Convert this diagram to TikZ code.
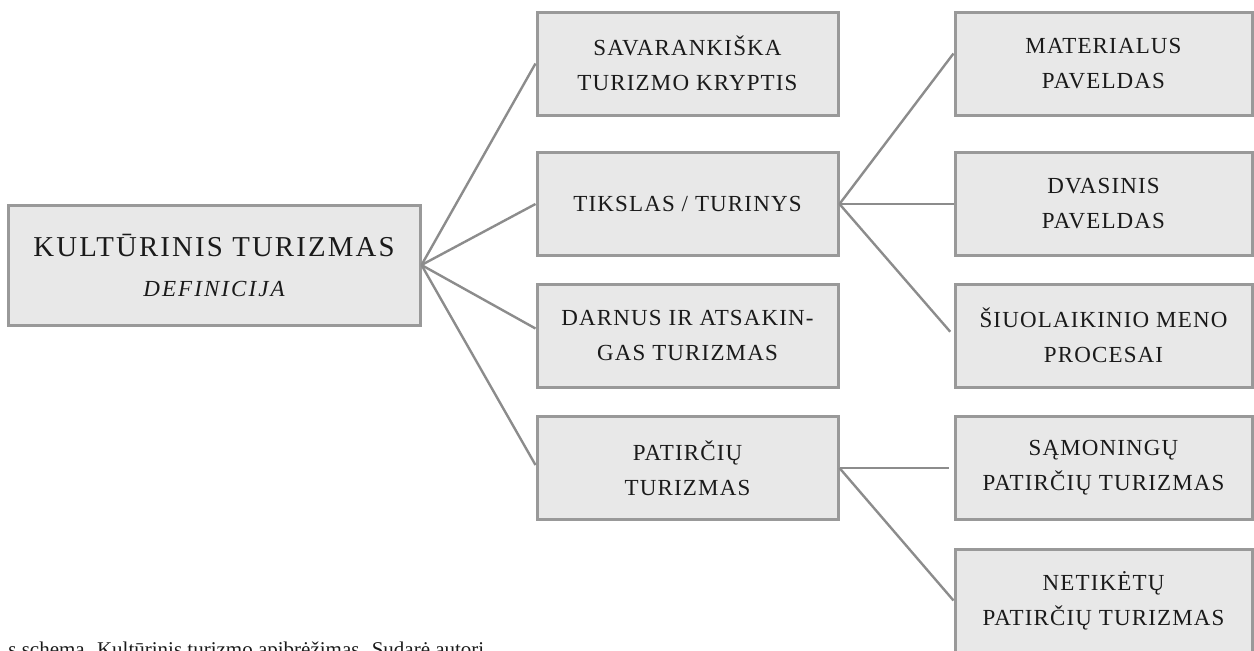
\documentclass[tikz,border=0pt]{standalone}
\usepackage{fontspec}
\setmainfont{Liberation Serif}
\newfontfamily\boxfont[LetterSpace=5]{Liberation Serif}
\newfontfamily\topfont[LetterSpace=7.5]{Liberation Serif}
\newfontfamily\subfont[LetterSpace=9]{Liberation Serif}
\usetikzlibrary{positioning}
\definecolor{boxfill}{HTML}{E8E8E8}
\definecolor{boxline}{HTML}{999999}
\definecolor{linkline}{HTML}{8C8C8C}
\definecolor{ink}{HTML}{1A1A1A}

\begin{document}
\begin{tikzpicture}[x=0.5pt, y=-0.5pt,
  box/.style={draw=boxline, line width=1.5pt, fill=boxfill, inner sep=0pt,
    minimum width=150pt, minimum height=51.5pt, align=center, text=ink,
    font=\boxfont\fontsize{11.5}{17.5}\selectfont},
  link/.style={draw=linkline, line width=1.2pt}]
  \useasboundingbox (0,0) rectangle (1254,650);
  \node[box, minimum width=206pt, minimum height=60pt,
    font=\topfont\fontsize{14.4}{20}\selectfont] (root) at (214,265)
    {KULTŪRINIS TURIZMAS\\{\subfont\itshape\fontsize{11.5}{20}\selectfont DEFINICIJA}};
  \node[box, minimum width=150.5pt] (sav) at (687.5,63.5) {SAVARANKIŠKA\\TURIZMO KRYPTIS};
  \node[box, minimum width=150.5pt] (tik) at (687.5,204) {TIKSLAS / TURINYS};
  \node[box, minimum width=150.5pt] (dar) at (687.5,335.5) {DARNUS IR ATSAKIN-\\GAS TURIZMAS};
  \node[box, minimum width=150.5pt] (pat) at (687.5,468) {PATIRČIŲ\\TURIZMAS};
  \node[box, minimum width=148.5pt] (mat) at (1103.5,63.5) {MATERIALUS\\PAVELDAS};
  \node[box, minimum width=148.5pt] (dva) at (1103.5,204) {DVASINIS\\PAVELDAS};
  \node[box, minimum width=148.5pt] (siu) at (1103.5,335.5) {ŠIUOLAIKINIO MENO\\PROCESAI};
  \node[box, minimum width=148.5pt] (sam) at (1103.5,468) {SĄMONINGŲ\\PATIRČIŲ TURIZMAS};
  \node[box, minimum width=148.5pt] (net) at (1103.5,600.5) {NETIKĖTŲ\\PATIRČIŲ TURIZMAS};
  \foreach \b in {sav,tik}
    \draw[link] (root.east) -- (\b.west);
  \draw[link] (root.east) -- ([yshift=3.5pt]dar.west);
  \draw[link] (root.east) -- ([yshift=1.5pt]pat.west);
  \draw[link] (tik.east) -- ([yshift=5pt]mat.west);
  \draw[link] (tik.east) -- (dva.west);
  \draw[link, shorten >=2.5pt] (tik.east) -- (siu.west);
  \draw[link, shorten >=2.5pt] (pat.east) -- (sam.west);
  \draw[link] (pat.east) -- (net.west);
  \node[anchor=base west, inner sep=0pt, text=ink, font=\fontsize{10.5}{12}\selectfont]
    (cap) at (8,656) {s schema. Kultūrinis turizmo apibrėžimas. Sudarė autori};
\end{tikzpicture}
\end{document}
